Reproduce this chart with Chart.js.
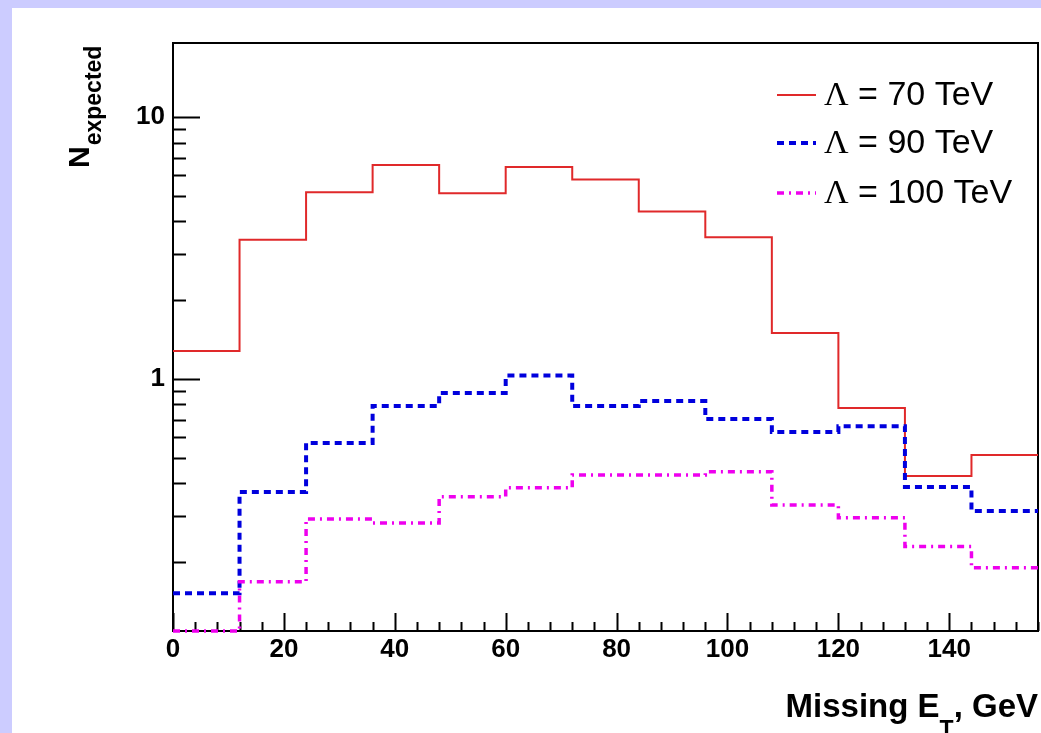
<!DOCTYPE html>
<html>
<head>
<meta charset="utf-8">
<title>Missing ET</title>
<script src="https://cdn.jsdelivr.net/npm/chart.js@4.4.1/dist/chart.umd.min.js"></script>
<style>
  html, body { margin: 0; padding: 0; background: #ccccff; }
  canvas { display: block; }
</style>
</head>
<body>
<canvas id="etChart" width="1041" height="733"></canvas>
<script>
// ── Data ──────────────────────────────────────────────────────────────────
// bin edges in GeV (13 bins of 12 GeV)
const binEdges  = [0, 12, 24, 36, 48, 60, 72, 84, 96, 108, 120, 132, 144, 156];
const lambda70  = [1.28, 3.40, 5.17, 6.56, 5.12, 6.45, 5.78, 4.36, 3.48, 1.50, 0.775, 0.426, 0.513];
const lambda90  = [0.152, 0.37, 0.57, 0.789, 0.884, 1.03, 0.789, 0.824, 0.704, 0.628, 0.66, 0.387, 0.313];
const lambda100 = [0.109, 0.168, 0.292, 0.282, 0.355, 0.384, 0.43, 0.43, 0.442, 0.33, 0.295, 0.229, 0.19];
const seriesLabels = ['70 TeV', '90 TeV', '100 TeV'];

const xMajorLabels = [0, 20, 40, 60, 80, 100, 120, 140];
const yMajorLabels = [1, 10];
const yMinorTicks  = [0.2, 0.3, 0.4, 0.5, 0.6, 0.7, 0.8, 0.9, 1, 2, 3, 4, 5, 6, 7, 8, 9, 10];

const SANS  = "'Liberation Sans', Arial, Helvetica, sans-serif";
const SERIF = "'Liberation Serif', 'Times New Roman', serif";

// histogram → step points at the left edge of each bin, plus closing edge
function toSteps(values) {
  const pts = values.map((v, i) => ({ x: binEdges[i], y: v }));
  pts.push({ x: binEdges[binEdges.length - 1], y: values[values.length - 1] });
  return pts;
}

// ── ROOT-like frame, ticks, titles, legend ───────────────────────────────
const rootStyle = {
  id: 'rootStyle',
  beforeDraw(chart) {
    const ctx = chart.ctx;
    ctx.save();
    ctx.fillStyle = '#ccccff';
    ctx.fillRect(0, 0, chart.width, chart.height);
    ctx.fillStyle = '#ffffff';
    ctx.fillRect(12, 8, chart.width - 12, chart.height - 8);
    ctx.restore();
  },
  // frame + inward ticks go under the histograms, like ROOT
  beforeDatasetsDraw(chart) {
    const ctx = chart.ctx;
    const a = chart.chartArea;
    const xs = chart.scales.x, ys = chart.scales.y;
    ctx.save();
    ctx.strokeStyle = '#000';
    ctx.lineWidth = 2;
    ctx.setLineDash([]);
    ctx.strokeRect(a.left, a.top, a.right - a.left, a.bottom - a.top);

    ctx.beginPath();
    xs.ticks.forEach(t => {
      const px = Math.round(xs.getPixelForValue(t.value)) + 0.5;
      const len = xMajorLabels.includes(t.value) ? 18 : 9;
      ctx.moveTo(px, a.bottom);
      ctx.lineTo(px, a.bottom - len);
    });
    ys.ticks.forEach(t => {
      const py = Math.round(ys.getPixelForValue(t.value)) + 0.5;
      const len = yMajorLabels.includes(t.value) ? 27 : 13;
      ctx.moveTo(a.left, py);
      ctx.lineTo(a.left + len, py);
    });
    ctx.stroke();
    ctx.restore();
  },
  afterDraw(chart) {
    const ctx = chart.ctx;
    ctx.save();
    ctx.fillStyle = '#000';

    // y title: N_expected, rotated
    ctx.save();
    ctx.translate(89, 168);
    ctx.rotate(-Math.PI / 2);
    ctx.textBaseline = 'alphabetic';
    ctx.textAlign = 'left';
    ctx.font = `bold 30px ${SANS}`;
    ctx.fillText('N', 0, 0);
    const nW = ctx.measureText('N').width;
    ctx.font = `bold 23px ${SANS}`;
    ctx.fillText('expected', nW + 1, 12);
    ctx.restore();

    // x title: Missing E_T, GeV  (right edge at 1038)
    ctx.textBaseline = 'alphabetic';
    ctx.textAlign = 'left';
    ctx.font = `bold 33px ${SANS}`;
    const w1 = ctx.measureText('Missing E').width;
    const w3 = ctx.measureText(', GeV').width;
    ctx.font = `bold 23px ${SANS}`;
    const w2 = ctx.measureText('T').width;
    let x0 = 1038 - (w1 + w2 + w3);
    ctx.font = `bold 33px ${SANS}`;
    ctx.fillText('Missing E', x0, 717);
    ctx.fillText(', GeV', x0 + w1 + w2, 717);
    ctx.font = `bold 23px ${SANS}`;
    ctx.fillText('T', x0 + w1, 737);

    // legend
    const rows = [95, 143, 193];
    chart.data.datasets.forEach((ds, i) => {
      const y = rows[i];
      ctx.strokeStyle = ds.borderColor;
      ctx.lineWidth = ds.borderWidth;
      ctx.setLineDash(ds.borderDash || []);
      ctx.beginPath();
      ctx.moveTo(777, y);
      ctx.lineTo(816, y);
      ctx.stroke();
      ctx.setLineDash([]);
      ctx.fillStyle = '#000';
      ctx.textBaseline = 'middle';
      ctx.textAlign = 'left';
      ctx.font = `34px ${SERIF}`;
      ctx.fillText('Λ', 824, y + 1);
      const lw = ctx.measureText('Λ').width;
      ctx.font = `34px ${SANS}`;
      ctx.fillText(' = ' + seriesLabels[i], 824 + lw, y + 1);
    });
    ctx.restore();
  },
};

// ── Chart ────────────────────────────────────────────────────────────────
new Chart(document.getElementById('etChart'), {
  type: 'line',
  data: {
    datasets: [
      {
        label: 'Λ = ' + seriesLabels[0],
        data: toSteps(lambda70),
        borderColor: '#e0292a',
        borderWidth: 2,
        order: 3,
      },
      {
        label: 'Λ = ' + seriesLabels[1],
        data: toSteps(lambda90),
        borderColor: '#0000dd',
        borderWidth: 4,
        borderDash: [7, 5],
        order: 2,
      },
      {
        label: 'Λ = ' + seriesLabels[2],
        data: toSteps(lambda100),
        borderColor: '#ee00ee',
        borderWidth: 3.5,
        borderDash: [7, 5, 2, 5],
        order: 1,
      },
    ].map(ds => Object.assign(ds, {
      stepped: true,
      pointRadius: 0,
      fill: false,
      tension: 0,
      clip: 4,
      borderCapStyle: 'butt',
    })),
  },
  options: {
    responsive: false,
    devicePixelRatio: 1,
    animation: false,
    events: [],
    layout: { padding: { left: 0, top: 43, right: 2, bottom: 0 } },
    plugins: {
      legend: { display: false },
      tooltip: { enabled: false },
    },
    scales: {
      x: {
        type: 'linear',
        min: binEdges[0],
        max: binEdges[binEdges.length - 1],
        grid: { display: false, drawTicks: false },
        border: { display: false },
        afterBuildTicks: s => {
          s.ticks = [];
          for (let v = binEdges[0]; v <= binEdges[binEdges.length - 1]; v += 4) s.ticks.push({ value: v });
        },
        afterFit: s => { s.height = 102; },
        ticks: {
          autoSkip: false,
          maxRotation: 0,
          padding: 3,
          color: '#000',
          font: { family: SANS, size: 26, weight: 'bold' },
          callback: v => xMajorLabels.includes(v) ? String(v) : '',
        },
      },
      y: {
        type: 'logarithmic',
        min: 0.109,
        max: 19.2,
        grid: { display: false, drawTicks: false },
        border: { display: false },
        afterBuildTicks: s => { s.ticks = yMinorTicks.map(v => ({ value: v })); },
        afterFit: s => { s.width = 173; },
        ticks: {
          autoSkip: false,
          padding: 8,
          color: '#000',
          font: { family: SANS, size: 26, weight: 'bold' },
          callback: v => yMajorLabels.includes(v) ? String(v) : '',
        },
      },
    },
  },
  plugins: [rootStyle],
});
</script>
</body>
</html>
